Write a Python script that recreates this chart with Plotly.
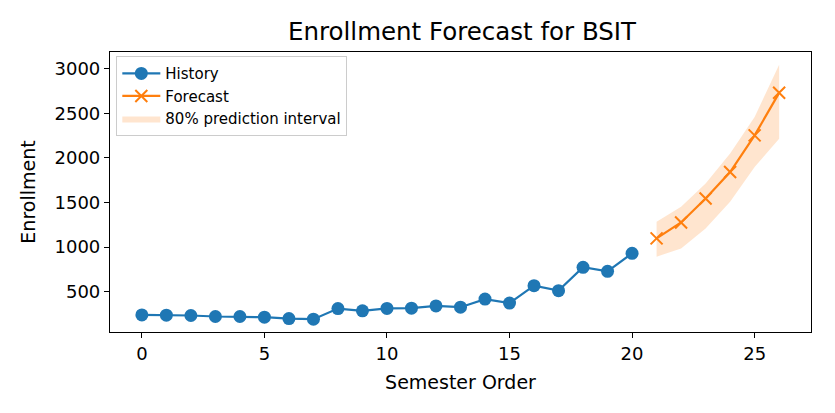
import plotly.graph_objects as go

# Enrollment history (semester order 0..20) and forecast with 80% interval
hist_x = list(range(0, 21))
hist_y = [239, 236, 232, 221, 221, 213, 198, 191, 310, 284,
          312, 314, 340, 325, 416, 371, 567, 511, 773, 728, 930]

fc_x = [21, 22, 23, 24, 25, 26]
fc_y = [1097, 1276, 1545, 1842, 2253, 2730]
fc_lower = [892, 985, 1209, 1507, 1898, 2216]
fc_upper = [1283, 1451, 1713, 2048, 2458, 3044]

blue = "#1f77b4"
orange = "#ff7f0e"
font = "DejaVu Sans"

fig = go.Figure()

# interval polygon: upper edge forward, lower edge back
fig.add_trace(go.Scatter(
    x=fc_x + fc_x[::-1],
    y=fc_upper + fc_lower[::-1],
    fill="toself",
    fillcolor="rgba(255,127,14,0.2)",
    line=dict(width=0),
    mode="lines",
    name="80% prediction interval",
    legendrank=3,
))
fig.add_trace(go.Scatter(
    x=hist_x, y=hist_y, mode="lines+markers", name="History",
    line=dict(color=blue, width=2.2),
    marker=dict(symbol="circle", size=13, color=blue),
    legendrank=1,
))
fig.add_trace(go.Scatter(
    x=fc_x, y=fc_y, mode="lines+markers", name="Forecast",
    line=dict(color=orange, width=2.2),
    marker=dict(symbol="x-thin", size=12, color=orange,
                line=dict(color=orange, width=2)),
    legendrank=2,
))

axis_common = dict(
    showline=True, mirror=True, linecolor="black", linewidth=1.2,
    ticks="outside", ticklen=5, tickwidth=1.2, tickcolor="black",
    showgrid=False, zeroline=False,
    tickfont=dict(family=font, size=18, color="black"),
)

# the page puts the figure 8px in from the corner, so it is drawn 8px smaller
fig.update_layout(
    width=827, height=405,
    margin=dict(l=102, r=24, t=44, b=81),
    paper_bgcolor="white", plot_bgcolor="white",
    font=dict(family=font, color="black"),
    title=dict(text="Enrollment Forecast for BSIT", x=0.549, xanchor="center",
               y=0.941, yanchor="middle",
               font=dict(family=font, size=24.5, color="black")),
    xaxis=dict(range=[-1.3, 27.3], tick0=0, dtick=5,
               title=dict(text="Semester Order", standoff=12,
                          font=dict(family=font, size=19)),
               **axis_common),
    yaxis=dict(range=[47, 3188], tick0=0, dtick=500,
               title=dict(text="Enrollment", standoff=13,
                          font=dict(family=font, size=19)),
               **axis_common),
    legend=dict(x=0.009, y=0.985, xanchor="left", yanchor="top",
                bgcolor="rgba(255,255,255,0.8)", bordercolor="#cccccc",
                borderwidth=1, font=dict(family=font, size=15),
                itemwidth=38, tracegroupgap=0),
    showlegend=True,
)

fig.write_html("out.html")
